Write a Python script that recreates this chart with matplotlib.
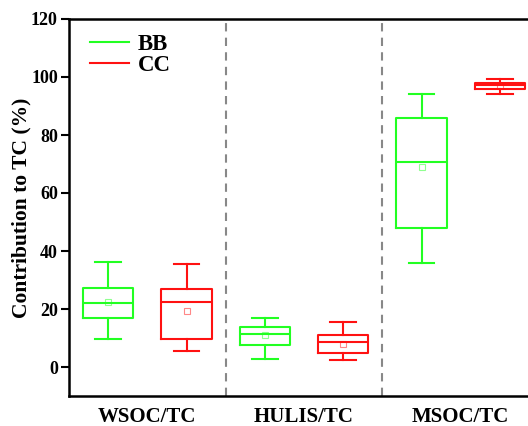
import matplotlib.pyplot as plt
from matplotlib.lines import Line2D

plt.rcParams['font.family'] = 'Liberation Serif'
plt.rcParams['font.weight'] = 'bold'

categories = ['WSOC/TC', 'HULIS/TC', 'MSOC/TC']
groups = ['BB', 'CC']
colors = {'BB': '#22ff22', 'CC': '#ff1111'}

# five-number summaries + mean
bb_low = [9.7, 2.9, 35.8]
bb_q1 = [16.9, 7.6, 48.0]
bb_med = [22.1, 11.5, 70.7]
bb_q3 = [27.4, 13.9, 85.9]
bb_high = [36.1, 16.9, 94.1]
bb_mean = [22.3, 11.0, 69.0]

cc_low = [5.6, 2.4, 94.0]
cc_q1 = [9.8, 4.7, 95.8]
cc_med = [22.5, 8.6, 97.2]
cc_q3 = [27.0, 11.0, 98.1]
cc_high = [35.4, 15.4, 99.3]
cc_mean = [19.4, 8.0, 97.0]

data = {
    'BB': (bb_low, bb_q1, bb_med, bb_q3, bb_high, bb_mean),
    'CC': (cc_low, cc_q1, cc_med, cc_q3, cc_high, cc_mean),
}

fig = plt.figure(figsize=(5.28, 4.26), dpi=100)
ax = fig.add_axes([69 / 528, 30 / 426, 470 / 528, 377 / 426])

offset = 0.25
for g, sign in zip(groups, [-1, 1]):
    low, q1, med, q3, high, mean = data[g]
    stats = []
    for i in range(len(categories)):
        stats.append(dict(whislo=low[i], q1=q1[i], med=med[i], q3=q3[i],
                          whishi=high[i], mean=mean[i], fliers=[]))
    pos = [i + 1 + sign * offset for i in range(len(categories))]
    c = colors[g]
    ax.bxp(stats, positions=pos, widths=0.32, showmeans=True, showfliers=False,
           boxprops=dict(color=c, lw=1.5),
           whiskerprops=dict(color=c, lw=1.5),
           capprops=dict(color=c, lw=1.5),
           medianprops=dict(color=c, lw=1.5),
           meanprops=dict(marker='s', markerfacecolor='none',
                          markeredgecolor=c, markersize=4, alpha=0.5,
                          markeredgewidth=0.8),
           capwidths=0.165, manage_ticks=False)

for x in [1.5, 2.5]:
    ax.axvline(x, color='#888888', ls=(0, (4, 3)), lw=1.5)

ax.set_xlim(0.5, 3.5)
ax.set_ylim(-10, 120)
ax.set_xticks([1, 2, 3])
ax.set_xticklabels(categories, fontsize=15, fontweight='bold')
ax.set_yticks([0, 20, 40, 60, 80, 100, 120])
ax.tick_params(axis='x', length=0, pad=8)
ax.tick_params(axis='y', direction='out', length=6, width=1.5, labelsize=13, pad=2)
ax.set_ylabel('Contribution to TC (%)', fontsize=15.5, fontweight='bold', labelpad=0)

for s in ['left', 'bottom', 'top', 'right']:
    ax.spines[s].set_linewidth(1.8)

handles = [Line2D([], [], color=colors[g], lw=1.5) for g in groups]
ax.legend(handles, groups, loc='upper left', bbox_to_anchor=(0.0, 1.015),
          frameon=False, handlelength=1.7, handletextpad=0.4,
          labelspacing=0.0, prop=dict(weight='bold', size=16.5))

fig.savefig('out.png', dpi=100)
